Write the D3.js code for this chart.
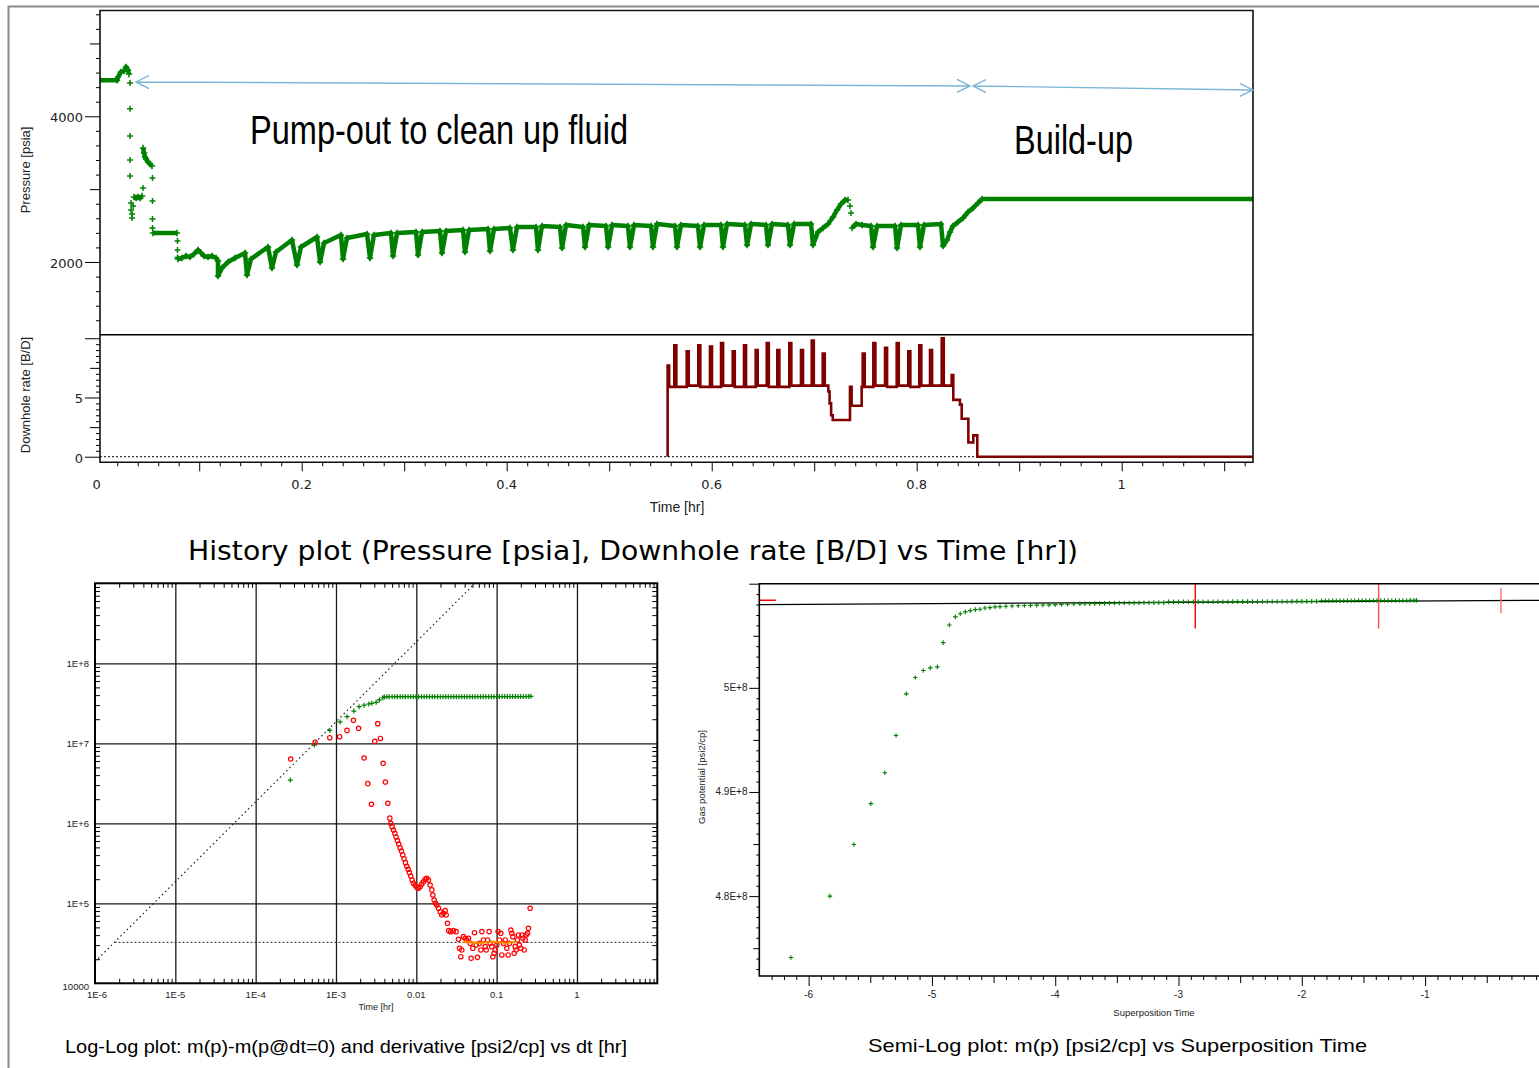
<!DOCTYPE html>
<html><head><meta charset="utf-8">
<script src="https://cdn.jsdelivr.net/npm/d3@7"></script>
<style>body{margin:0;background:#fff}svg{display:block}</style>
</head><body>
<svg id="c" width="1539" height="1068"></svg>
<script>
// ================= DATA =================
// --- History plot ---
const historyXTickLabels = [0, 0.2, 0.4, 0.6, 0.8, 1];
const pressureTickLabels = [2000, 4000];
const rateTickLabels = [0, 5];

// pressure [hr, psia] - continuous runs of dense samples
const pressureInitial = [[0.0032,4494],[0.0198,4494],[0.0208,4540],[0.0237,4608],[0.0266,4622],[0.0286,4677],[0.0305,4636],[0.0315,4581]];
const pressurePlateau1 = [[0.0364,2892],[0.0384,2879],[0.0403,2892],[0.0423,2879],[0.0442,2906]];
const pressureArc = [[0.0452,3565],[0.0462,3496],[0.0471,3441],[0.0481,3414],[0.0500,3373],[0.0520,3345],[0.0539,3318]];
const pressurePlateau2 = [[0.0549,2398],[0.0783,2398]];
const pressurePumpOut = [
 [0.0793,2041],[0.0832,2055],[0.0871,2082],[0.0910,2069],[0.0949,2110],[0.0988,2165],[0.1018,2124],[0.1047,2082],[0.1086,2069],[0.1125,2082],[0.1164,2055],[0.1183,2014],
 [0.1183,1808],[0.1222,1918],[0.1281,2000],[0.1349,2055],[0.1447,2124],
 [0.1466,1822],[0.1505,2041],[0.1671,2206],
 [0.1710,1918],[0.1749,2137],[0.1905,2302],
 [0.1954,1959],[0.1993,2206],[0.2149,2343],
 [0.2179,2000],[0.2218,2260],[0.2383,2371],
 [0.2403,2041],[0.2442,2330],[0.2637,2384],
 [0.2666,2055],[0.2705,2371],[0.2871,2398],
 [0.2891,2082],[0.2930,2398],[0.3115,2412],
 [0.3135,2096],[0.3174,2412],[0.3349,2426],
 [0.3369,2124],[0.3408,2426],[0.3574,2439],
 [0.3593,2137],[0.3632,2439],[0.3818,2453],
 [0.3837,2151],[0.3876,2453],[0.4032,2467],
 [0.4061,2165],[0.4100,2480],[0.4286,2480],
 [0.4305,2165],[0.4344,2494],[0.4520,2480],
 [0.4540,2192],[0.4579,2508],[0.4745,2480],
 [0.4764,2206],[0.4803,2508],[0.4969,2494],
 [0.4989,2206],[0.5028,2508],[0.5183,2494],
 [0.5203,2206],[0.5242,2508],[0.5408,2494],
 [0.5427,2206],[0.5466,2522],[0.5642,2494],
 [0.5661,2206],[0.5700,2508],[0.5866,2494],
 [0.5886,2206],[0.5925,2508],[0.6091,2508],
 [0.6110,2206],[0.6149,2522],[0.6325,2508],
 [0.6345,2233],[0.6384,2522],[0.6530,2508],
 [0.6549,2233],[0.6588,2522],[0.6744,2508],
 [0.6764,2233],[0.6803,2522],[0.6969,2522],
 [0.6988,2233],[0.7037,2412],[0.7086,2467],[0.7135,2522],[0.7184,2618],[0.7223,2714],[0.7262,2796],[0.7301,2851],[0.7330,2851]
];
const pressureLate = [
 [0.7369,2467],[0.7408,2522],[0.7467,2508],[0.7555,2494],
 [0.7574,2206],[0.7613,2494],[0.7789,2494],
 [0.7808,2192],[0.7847,2508],[0.8013,2508],
 [0.8032,2206],[0.8071,2508],[0.8237,2522],
 [0.8257,2220],[0.8296,2302],[0.8325,2412],[0.8354,2494],[0.8403,2549],[0.8452,2604],[0.8501,2686],[0.8550,2741],[0.8598,2810],[0.8637,2865],
 [1.1281,2865]
];
// isolated pressure samples
const pressureSparse = [
 [0.0325,4457],[0.0325,4104],[0.0325,3730],[0.0325,3400],[0.0325,3180],
 [0.0335,2810],[0.0335,2714],[0.0345,2659],[0.0345,2604],[0.0355,2769],
 [0.0452,3015],[0.0544,3153],[0.0544,2837],[0.0544,2590],[0.0544,2467],
 [0.0788,2288],[0.0788,2165],[0.0788,2062],
 [0.7349,2769],[0.7359,2673]
];
// downhole rate [hr, B/D] (step after)
const rateHistory = [
 [0.5570,0],[0.5570,7.7],[0.5585,5.9],
 [0.5635,9.4],[0.5655,5.9],[0.5756,8.9],[0.5776,6.0],[0.5869,9.4],[0.5889,5.9],
 [0.5983,9.3],[0.6003,5.9],[0.6091,9.6],[0.6111,6.0],[0.6205,8.9],[0.6225,5.9],
 [0.6315,9.4],[0.6335,5.9],[0.6429,9.0],[0.6449,6.0],[0.6537,9.6],[0.6557,5.9],
 [0.6640,9.0],[0.6660,5.9],[0.6757,9.6],[0.6777,6.0],[0.6871,9.0],[0.6891,6.0],
 [0.6976,9.8],[0.6996,6.0],[0.7083,8.7],[0.7103,6.0],
 [0.7138,5.5],[0.7150,4.5],[0.7165,3.5],[0.7181,3.1],
 [0.7349,5.9],[0.7365,4.3],[0.7463,5.9],
 [0.7473,8.7],[0.7493,5.9],[0.7577,9.6],[0.7597,6.0],[0.7691,9.2],[0.7711,5.9],
 [0.7805,9.6],[0.7825,6.0],[0.7918,8.9],[0.7938,5.9],[0.8025,9.4],[0.8045,6.0],
 [0.8130,9.0],[0.8150,6.0],[0.8244,10.0],[0.8264,6.0],
 [0.8341,6.9],[0.8357,4.8],[0.8422,4.4],[0.8439,3.2],[0.8504,1.2],[0.8552,1.8],[0.8591,0],[1.1281,0]
];
// annotation arrows [hr, psia]
const arrowPumpOut = [[0.0383,4471],[0.852,4416]];
const arrowBuildUp = [[0.855,4416],[1.128,4361]];

// --- Log-Log plot ---
const logXTickValues = [1e-6,1e-5,1e-4,1e-3,0.01,0.1,1];
const logXTickLabels = ["1E-6","1E-5","1E-4","1E-3","0.01","0.1","1"];
const logYTickValues = [1e4,1e5,1e6,1e7,1e8];
const logYTickLabels = ["10000","1E+5","1E+6","1E+7","1E+8"];
const deltaMp = [
 [2.70e-4,3.47e6],[5.38e-4,9.5e6],[8.37e-4,1.45e7],[1.125e-3,1.85e7],[1.374e-3,2.15e7],[1.67e-3,2.53e7],[1.94e-3,2.87e7],
 [2.24e-3,3.0e7],[2.56e-3,3.1e7],[2.79e-3,3.16e7],[3.16e-3,3.25e7],[3.47e-3,3.48e7],[3.83e-3,3.71e7],
 [0.0040,3.80e7],[0.0043,3.81e7],[0.0046,3.82e7],[0.0050,3.82e7],[0.0054,3.82e7],[0.0058,3.83e7],[0.0063,3.83e7],[0.0068,3.83e7],
 [0.0073,3.83e7],[0.0079,3.83e7],[0.0085,3.83e7],[0.0092,3.83e7],[0.0099,3.83e7],[0.0107,3.83e7],[0.0116,3.83e7],[0.0125,3.83e7],
 [0.0135,3.83e7],[0.0146,3.83e7],[0.0158,3.83e7],[0.0170,3.83e7],[0.0184,3.83e7],[0.0199,3.83e7],[0.0215,3.83e7],[0.0232,3.83e7],
 [0.0250,3.83e7],[0.0270,3.83e7],[0.0292,3.83e7],[0.0315,3.83e7],[0.0340,3.83e7],[0.0367,3.83e7],[0.0397,3.83e7],[0.0428,3.83e7],
 [0.0463,3.83e7],[0.0500,3.83e7],[0.0540,3.83e7],[0.0583,3.83e7],[0.0630,3.83e7],[0.0680,3.83e7],[0.0734,3.83e7],[0.0793,3.83e7],
 [0.0857,3.83e7],[0.0925,3.83e7],[0.0999,3.84e7],[0.108,3.84e7],[0.117,3.84e7],[0.126,3.84e7],[0.136,3.84e7],[0.147,3.84e7],
 [0.158,3.84e7],[0.171,3.84e7],[0.185,3.84e7],[0.199,3.84e7],[0.215,3.84e7],[0.233,3.84e7],[0.251,3.85e7],[0.267,3.87e7]
];
const derivativeMp = [
 [2.73e-4,6.36e6],[5.5e-4,1.03e7],[8.37e-4,1.175e7],[1.11e-3,1.21e7],[1.37e-3,1.45e7],[1.65e-3,1.94e7],[1.91e-3,1.54e7],
 [2.24e-3,6.55e6],[2.49e-3,3.13e6],[2.76e-3,1.73e6],[3.04e-3,1.06e7],[3.31e-3,1.76e7],[3.57e-3,1.15e7],[3.86e-3,5.62e6],
 [4.12e-3,3.28e6],[4.42e-3,1.78e6],[4.68e-3,1.16e6],
 [4.81e-3,1.00e6],[5.00e-3,9.08e5],[5.19e-3,8.24e5],[5.40e-3,7.50e5],[5.60e-3,6.75e5],[5.82e-3,6.07e5],[6.04e-3,5.51e5],
 [6.28e-3,4.95e5],[6.53e-3,4.51e5],[6.78e-3,4.02e5],[7.05e-3,3.61e5],[7.33e-3,3.22e5],[7.60e-3,2.90e5],[7.91e-3,2.66e5],
 [8.20e-3,2.42e5],[8.53e-3,2.19e5],[8.87e-3,1.95e5],[9.20e-3,1.78e5],[9.66e-3,1.68e5],[1.014e-2,1.58e5],[1.064e-2,1.54e5],
 [1.114e-2,1.61e5],[1.169e-2,1.74e5],[1.227e-2,1.86e5],[1.288e-2,2.00e5],[1.349e-2,2.05e5],[1.416e-2,1.95e5],[1.486e-2,1.69e5],
 [1.560e-2,1.47e5],[1.603e-2,1.27e5],[1.667e-2,1.10e5],[1.730e-2,1.00e5],[1.799e-2,9.53e4],[1.888e-2,8.65e4],[1.982e-2,7.85e4],
 [2.075e-2,7.14e4],[2.178e-2,7.50e4],[2.286e-2,8.09e4],[2.355e-2,7.14e4],[2.443e-2,5.62e4],[2.535e-2,4.55e4],[2.685e-2,4.42e4],
 [2.897e-2,4.55e4],[3.133e-2,4.42e4],
 [0.0335,3.55e4],[0.0345,2.74e4],[0.0358,2.15e4],[0.0368,2.61e4],[0.0386,3.83e4],[0.0405,3.65e4],[0.0425,3.48e4],[0.0446,3.65e4],
 [0.0468,3.16e4],[0.0481,2.05e4],[0.0505,2.74e4],[0.0530,4.29e4],[0.0556,3.01e4],[0.0577,2.11e4],[0.0611,3.16e4],[0.0636,2.61e4],
 [0.0655,4.43e4],[0.0686,3.48e4],[0.0720,2.87e4],[0.0740,2.61e4],[0.0769,3.48e4],[0.0807,4.43e4],[0.0830,3.16e4],[0.0871,2.87e4],
 [0.0897,2.15e4],[0.0931,2.37e4],[0.0958,2.61e4],[0.1005,3.01e4],[0.1044,4.43e4],[0.1084,3.48e4],[0.1128,4.22e4],[0.1161,2.26e4],
 [0.1217,3.16e4],[0.1277,3.48e4],[0.1340,2.74e4],[0.1391,2.26e4],[0.1445,3.16e4],[0.1503,4.64e4],[0.1546,4.22e4],[0.1591,3.83e4],
 [0.1653,2.37e4],[0.1700,2.87e4],[0.1750,2.61e4],[0.1817,3.48e4],[0.1868,4.02e4],[0.1923,3.01e4],[0.2000,2.74e4],[0.2061,4.02e4],
 [0.2120,3.65e4],[0.2203,2.61e4],[0.2265,3.48e4],[0.2333,4.02e4],[0.2422,4.22e4],[0.2490,4.87e4],[0.2612,8.66e4]
];
const derivativeFit = [[0.038,3.3e4],[0.06,3.2e4],[0.09,3.3e4],[0.13,3.2e4],[0.18,3.3e4]];
const unitSlopeLine = [[1e-6,1.86e4],[0.0538,1e9]];
const radialFlowLine = [[1.75e-6,3.25e4],[10,3.25e4]];

// --- Semi-Log plot ---
const semiXTickLabels = [-6,-5,-4,-3,-2,-1];
const semiYTickValues = [4.8e8,4.9e8,5e8];
const semiYTickLabels = ["4.8E+8","4.9E+8","5E+8"];
const gasPotential = [
 [-6.143,4.741e8],[-5.827,4.800e8],[-5.633,4.8495e8],[-5.495,4.8888e8],[-5.382,4.9185e8],[-5.291,4.9543e8],[-5.208,4.9942e8],
 [-5.135,5.0099e8],[-5.070,5.0166e8],[-5.013,5.0192e8],[-4.956,5.0201e8],[-4.908,5.0434e8],[-4.859,5.0604e8],[-4.810,5.0681e8],
 [-4.770,5.0712e8],[-4.729,5.0729e8],[-4.689,5.0741e8],[-4.648,5.0751e8],[-4.610,5.0755e8],[-4.570,5.0767e8],[-4.529,5.0770e8],
 [-4.488,5.0777e8],[-4.448,5.0780e8],
 [-4.40,5.0784e8],[-4.35,5.0786e8],[-4.30,5.0788e8],[-4.25,5.0790e8],[-4.20,5.0792e8],[-4.15,5.0794e8],[-4.10,5.0796e8],[-4.05,5.0797e8],
 [-4.00,5.0799e8],[-3.95,5.0801e8],[-3.90,5.0803e8],[-3.85,5.0805e8],[-3.80,5.0806e8],[-3.76,5.0807e8],[-3.72,5.0808e8],[-3.68,5.0809e8],
 [-3.64,5.0810e8],[-3.60,5.0811e8],[-3.56,5.0812e8],[-3.52,5.0813e8],[-3.48,5.0814e8],[-3.44,5.0815e8],[-3.40,5.0815e8],[-3.36,5.0816e8],
 [-3.32,5.0816e8],[-3.28,5.0817e8],[-3.24,5.0817e8],[-3.20,5.0818e8],[-3.16,5.0818e8],[-3.12,5.0818e8],[-3.08,5.0825e8],[-3.04,5.0825e8],
 [-3.00,5.0825e8],[-2.96,5.0826e8],[-2.92,5.0826e8],[-2.88,5.0826e8],[-2.84,5.0826e8],[-2.80,5.0826e8],[-2.76,5.0827e8],[-2.72,5.0827e8],
 [-2.68,5.0827e8],[-2.64,5.0827e8],[-2.60,5.0827e8],[-2.56,5.0828e8],[-2.52,5.0828e8],[-2.48,5.0828e8],[-2.44,5.0828e8],[-2.40,5.0828e8],
 [-2.36,5.0828e8],[-2.32,5.0829e8],[-2.28,5.0829e8],[-2.24,5.0829e8],[-2.20,5.0829e8],[-2.16,5.0829e8],[-2.12,5.0829e8],[-2.08,5.0830e8],
 [-2.04,5.0830e8],[-2.00,5.0830e8],[-1.96,5.0830e8],[-1.92,5.0830e8],[-1.88,5.0830e8],[-1.84,5.0836e8],[-1.81,5.0836e8],[-1.78,5.0836e8],
 [-1.75,5.0836e8],[-1.72,5.0837e8],[-1.69,5.0837e8],[-1.66,5.0837e8],[-1.63,5.0837e8],[-1.60,5.0837e8],[-1.57,5.0837e8],[-1.54,5.0838e8],
 [-1.51,5.0838e8],[-1.48,5.0838e8],[-1.45,5.0838e8],[-1.42,5.0838e8],[-1.39,5.0838e8],[-1.36,5.0838e8],[-1.33,5.0839e8],[-1.30,5.0839e8],
 [-1.27,5.0839e8],[-1.24,5.0839e8],[-1.21,5.0839e8],[-1.18,5.0839e8],[-1.15,5.0839e8],[-1.12,5.0840e8],[-1.09,5.0840e8],[-1.07,5.0840e8]
];
const semilogFitLine = [[-6.4,5.0799e8],[0,5.0841e8]];
const semilogMarkerDash = [[-6.4,5.0841e8],[-6.266,5.0841e8]];
const semilogMarkers = [[-2.864,5.0569e8,5.10e8],[-1.377,5.0569e8,5.10e8],[-0.385,5.0716e8,5.0956e8]];

// ================= DRAWING =================
const svg = d3.select("#c");
const defs = svg.append("defs");
const SANS = "'Liberation Sans', Arial, sans-serif";
const GREEN = "#008000";

function clip(id, x, y, w, h) {
  defs.append("clipPath").attr("id", id).append("rect").attr("x", x).attr("y", y).attr("width", w).attr("height", h);
  return "url(#" + id + ")";
}
function plusMarks(g, pts, xs, ys, s, sw) {
  g.selectAll(null).data(pts).join("path")
    .attr("d", `M${-s},0H${s}M0,${-s}V${s}`)
    .attr("transform", d => `translate(${xs(d[0])},${ys(d[1])})`)
    .attr("stroke", GREEN).attr("stroke-width", sw).attr("fill", "none");
}
function styleAxis(g) { g.select(".domain").remove(); g.selectAll("line").attr("stroke", "#000"); }

// outer gray border
svg.append("path").attr("d", "M8.5,1068V6.5H1539").attr("fill", "none").attr("stroke", "#8a8a8a").attr("stroke-width", 2);

// ---------- History plot ----------
const hx = d3.scaleLinear().domain([0.0032, 1.1281]).range([100, 1253]);
const hyP = d3.scaleLinear().domain([1002, 5452]).range([334.7, 10.5]);
const hyR = d3.scaleLinear().domain([-0.47, 10.3]).range([462.3, 334.7]);
const H = svg.append("g");

// pressure ticks
const pMinor = d3.range(1200, 5401, 200).filter(v => v % 1000 !== 0);
H.append("g").attr("transform", "translate(100,0)").call(d3.axisLeft(hyP).tickValues(pMinor).tickSize(4).tickFormat("")).call(styleAxis);
H.append("g").attr("transform", "translate(100,0)").call(d3.axisLeft(hyP).tickValues([3000, 5000]).tickSize(10).tickFormat("")).call(styleAxis);
H.append("g").attr("transform", "translate(100,0)").call(d3.axisLeft(hyP).tickValues(pressureTickLabels).tickSize(15).tickFormat("")).call(styleAxis);
H.selectAll(null).data(pressureTickLabels).join("text")
  .attr("x", 83).attr("y", d => hyP(d) + 6).attr("text-anchor", "end")
  .attr("font-family", "'DejaVu Sans', sans-serif").attr("font-size", 13).attr("fill", "#222").text(d => d);

// rate ticks
const rMinor = d3.range(0.5, 10, 0.5).filter(v => v !== 5 && v !== 2.5 && v !== 7.5);
H.append("g").attr("transform", "translate(100,0)").call(d3.axisLeft(hyR).tickValues(rMinor).tickSize(4).tickFormat("")).call(styleAxis);
H.append("g").attr("transform", "translate(100,0)").call(d3.axisLeft(hyR).tickValues([2.5, 7.5]).tickSize(10).tickFormat("")).call(styleAxis);
H.append("g").attr("transform", "translate(100,0)").call(d3.axisLeft(hyR).tickValues([0, 5, 10]).tickSize(15).tickFormat("")).call(styleAxis);
H.selectAll(null).data(rateTickLabels).join("text")
  .attr("x", 83).attr("y", d => hyR(d) + 6).attr("text-anchor", "end")
  .attr("font-family", "'DejaVu Sans', sans-serif").attr("font-size", 13).attr("fill", "#222").text(d => d);

// time ticks
const tMinor = d3.range(1, 57).map(i => i * 0.02).filter(v => Math.abs(v * 10 - Math.round(v * 10)) > 1e-6);
const tMajor = d3.range(1, 12).map(i => i * 0.1);
H.append("g").attr("transform", "translate(0,462.3)").call(d3.axisBottom(hx).tickValues(tMinor).tickSize(4).tickFormat("")).call(styleAxis);
H.append("g").attr("transform", "translate(0,462.3)").call(d3.axisBottom(hx).tickValues(tMajor).tickSize(9).tickFormat("")).call(styleAxis);
H.selectAll(null).data(historyXTickLabels).join("text")
  .attr("x", d => hx(d)).attr("y", 489).attr("text-anchor", "middle")
  .attr("font-family", "'DejaVu Sans', sans-serif").attr("font-size", 13).attr("fill", "#222").text(d => d);

// axis titles
H.append("text").attr("x", 677).attr("y", 512).attr("text-anchor", "middle").attr("font-family", SANS).attr("font-size", 14).attr("fill", "#222").text("Time [hr]");
H.append("text").attr("transform", "translate(30,170) rotate(-90)").attr("text-anchor", "middle").attr("font-family", SANS).attr("font-size", 13).attr("fill", "#222").text("Pressure [psia]");
H.append("text").attr("transform", "translate(30,395) rotate(-90)").attr("text-anchor", "middle").attr("font-family", SANS).attr("font-size", 13).attr("fill", "#222").text("Downhole rate [B/D]");

// zero-rate dotted line
H.append("line").attr("x1", 100).attr("x2", 1253).attr("y1", hyR(0)).attr("y2", hyR(0))
  .attr("stroke", "#000").attr("stroke-width", 1).attr("stroke-dasharray", "2,2");

// pressure data
const pClip = clip("pclip", 100, 10.5, 1153, 324.2);
const PG = H.append("g").attr("clip-path", pClip);
const pLine = d3.line().x(d => hx(d[0])).y(d => hyP(d[1]));
[pressureInitial, pressurePlateau1, pressureArc, pressurePlateau2, pressurePumpOut, pressureLate].forEach(run => {
  PG.append("path").attr("d", pLine(run)).attr("fill", "none").attr("stroke", GREEN)
    .attr("stroke-width", 4.5).attr("stroke-linejoin", "round");
  plusMarks(PG, run, hx, hyP, 3.2, 1.6);
});
plusMarks(PG, pressureSparse, hx, hyP, 3, 1.5);

// rate data
const rClip = clip("rclip", 100, 334.7, 1153, 127.6);
H.append("path").attr("clip-path", rClip)
  .attr("d", d3.line().curve(d3.curveStepAfter).x(d => hx(d[0])).y(d => hyR(d[1]))(rateHistory))
  .attr("fill", "none").attr("stroke", "#800000").attr("stroke-width", 2.6).attr("stroke-linejoin", "miter");

// frame
H.append("path").attr("d", "M100,10.5H1253V462.3H100Z").attr("fill", "none").attr("stroke", "#111").attr("stroke-width", 1.6);
H.append("line").attr("x1", 100).attr("x2", 1253).attr("y1", 334.7).attr("y2", 334.7).attr("stroke", "#000").attr("stroke-width", 1.4);

// annotation arrows
function arrow(g, a, b) {
  const p1 = [hx(a[0]), hyP(a[1])], p2 = [hx(b[0]), hyP(b[1])];
  const ang = Math.atan2(p2[1] - p1[1], p2[0] - p1[0]);
  const head = (p, dir) => {
    const L = 13, Wd = 6.5;
    const bx = p[0] - Math.cos(dir) * L, by = p[1] - Math.sin(dir) * L;
    const nx = -Math.sin(dir) * Wd, ny = Math.cos(dir) * Wd;
    return `M${bx + nx},${by + ny}L${p[0]},${p[1]}L${bx - nx},${by - ny}`;
  };
  g.append("path").attr("d", `M${p1[0]},${p1[1]}L${p2[0]},${p2[1]}` + head(p2, ang) + head(p1, ang + Math.PI))
    .attr("fill", "none").attr("stroke", "#7ab6d6").attr("stroke-width", 1.4);
}
arrow(H, arrowPumpOut[0], arrowPumpOut[1]);
arrow(H, arrowBuildUp[0], arrowBuildUp[1]);
const NARROW = "'Liberation Sans Narrow', 'Arial Narrow', 'Liberation Sans', sans-serif";
H.append("text").attr("x", 250).attr("y", 144).attr("font-family", NARROW).attr("font-size", 40)
  .attr("textLength", 378).attr("lengthAdjust", "spacingAndGlyphs").attr("fill", "#000").text("Pump-out to clean up fluid");
H.append("text").attr("x", 1014).attr("y", 154).attr("font-family", NARROW).attr("font-size", 40)
  .attr("textLength", 119).attr("lengthAdjust", "spacingAndGlyphs").attr("fill", "#000").text("Build-up");

// history title
svg.append("text").attr("x", 188).attr("y", 560).attr("font-family", "'DejaVu Sans', Verdana, sans-serif").attr("font-size", 26)
  .attr("textLength", 890).attr("lengthAdjust", "spacingAndGlyphs").attr("fill", "#000")
  .text("History plot (Pressure [psia], Downhole rate [B/D] vs Time [hr])");

// ---------- Log-Log plot ----------
const lx = d3.scaleLog().domain([1e-6, 10]).range([95, 657.3]);
const ly = d3.scaleLog().domain([1e4, 1e9]).range([983.3, 583.3]);
const L = svg.append("g");
// grid
L.append("g").attr("transform", "translate(0,983.3)").call(d3.axisBottom(lx).tickValues([1e-5,1e-4,1e-3,1e-2,1e-1,1]).tickSize(-400).tickFormat(""))
  .call(g => { g.select(".domain").remove(); g.selectAll("line").attr("stroke", "#1a1a1a").attr("stroke-width", 1.3); });
L.append("g").attr("transform", "translate(95,0)").call(d3.axisLeft(ly).tickValues([1e5,1e6,1e7,1e8]).tickSize(-562.3).tickFormat(""))
  .call(g => { g.select(".domain").remove(); g.selectAll("line").attr("stroke", "#1a1a1a").attr("stroke-width", 1.3); });
// minor ticks (inside)
const xMinorLog = [];
[1e-6,1e-5,1e-4,1e-3,1e-2,1e-1,1].forEach(d => { for (let k = 2; k <= 9; k++) xMinorLog.push(k * d); });
const yMinorLog = [];
[1e4,1e5,1e6,1e7,1e8].forEach(d => { for (let k = 2; k <= 9; k++) yMinorLog.push(k * d); });
L.append("g").attr("transform", "translate(0,983.3)").call(d3.axisBottom(lx).tickValues(xMinorLog).tickSize(-4.5).tickFormat("")).call(styleAxis);
L.append("g").attr("transform", "translate(0,583.3)").call(d3.axisTop(lx).tickValues(xMinorLog).tickSize(-4.5).tickFormat("")).call(styleAxis);
L.append("g").attr("transform", "translate(95,0)").call(d3.axisLeft(ly).tickValues(yMinorLog).tickSize(-5).tickFormat("")).call(styleAxis);
L.append("g").attr("transform", "translate(657.3,0)").call(d3.axisRight(ly).tickValues(yMinorLog).tickSize(-5).tickFormat("")).call(styleAxis);
// labels
L.selectAll(null).data(logXTickValues).join("text")
  .attr("x", (d, i) => lx(d) + (i === 0 ? 2 : 0)).attr("y", 998).attr("text-anchor", "middle")
  .attr("font-family", SANS).attr("font-size", 9.5).attr("fill", "#222").text((d, i) => logXTickLabels[i]);
L.selectAll(null).data(logYTickValues).join("text")
  .attr("x", 89).attr("y", (d, i) => i === 0 ? 990 : ly(d) + 3.5).attr("text-anchor", "end")
  .attr("font-family", SANS).attr("font-size", 9.5).attr("fill", "#222").text((d, i) => logYTickLabels[i]);
L.append("text").attr("x", 376).attr("y", 1010).attr("text-anchor", "middle").attr("font-family", SANS).attr("font-size", 9).attr("fill", "#222").text("Time [hr]");
// data
const lClip = clip("lclip", 95, 583.3, 562.3, 400);
const LD = L.append("g").attr("clip-path", lClip);
const lLine = d3.line().x(d => lx(d[0])).y(d => ly(d[1]));
LD.append("path").attr("d", lLine(unitSlopeLine)).attr("fill", "none").attr("stroke", "#222").attr("stroke-width", 1.2).attr("stroke-dasharray", "1.5,3");
LD.append("path").attr("d", lLine(radialFlowLine)).attr("fill", "none").attr("stroke", "#222").attr("stroke-width", 1).attr("stroke-dasharray", "2,2");
plusMarks(LD, deltaMp, lx, ly, 2.5, 1.2);
LD.selectAll(null).data(derivativeMp).join("circle")
  .attr("cx", d => lx(d[0])).attr("cy", d => ly(d[1])).attr("r", 2.2)
  .attr("fill", "none").attr("stroke", "#ff0000").attr("stroke-width", 1.2);
LD.append("path").attr("d", lLine(derivativeFit)).attr("fill", "none").attr("stroke", "#ff8c00").attr("stroke-width", 2.5).attr("opacity", 0.85);
L.append("rect").attr("x", 95).attr("y", 583.3).attr("width", 562.3).attr("height", 400).attr("fill", "none").attr("stroke", "#000").attr("stroke-width", 2);

svg.append("text").attr("x", 65).attr("y", 1053).attr("font-family", SANS).attr("font-size", 18.5).attr("fill", "#000")
  .attr("textLength", 562).attr("lengthAdjust", "spacingAndGlyphs")
  .text("Log-Log plot: m(p)-m(p@dt=0) and derivative [psi2/cp] vs dt [hr]");

// ---------- Semi-Log plot ----------
const sx = d3.scaleLinear().domain([-6.4, 0]).range([759.3, 1548.4]);
const sy = d3.scaleLinear().domain([4.7233e8, 5.1e8]).range([976, 583.7]);
const S = svg.append("g");
const sMinor = d3.range(-63, 0).map(i => i / 10).filter(v => Math.abs(v * 2 - Math.round(v * 2)) > 1e-6);
const sHalf = [-5.5, -4.5, -3.5, -2.5, -1.5, -0.5];
S.append("g").attr("transform", "translate(0,976)").call(d3.axisBottom(sx).tickValues(sMinor).tickSize(4).tickFormat("")).call(styleAxis);
S.append("g").attr("transform", "translate(0,976)").call(d3.axisBottom(sx).tickValues(sHalf).tickSize(7).tickFormat("")).call(styleAxis);
S.append("g").attr("transform", "translate(0,976)").call(d3.axisBottom(sx).tickValues(semiXTickLabels).tickSize(10).tickFormat("")).call(styleAxis);
S.selectAll(null).data(semiXTickLabels).join("text")
  .attr("x", d => sx(d)).attr("y", 998).attr("text-anchor", "middle")
  .attr("font-family", SANS).attr("font-size", 10).attr("fill", "#222").text(d => d);
const syMinor = d3.range(473, 510).map(i => i * 1e6).filter(v => (v / 1e6) % 5 !== 0);
S.append("g").attr("transform", "translate(759.3,0)").call(d3.axisLeft(sy).tickValues(syMinor).tickSize(3).tickFormat("")).call(styleAxis);
S.append("g").attr("transform", "translate(759.3,0)").call(d3.axisLeft(sy).tickValues([4.75e8, 4.85e8, 4.95e8, 5.05e8]).tickSize(6).tickFormat("")).call(styleAxis);
S.append("g").attr("transform", "translate(759.3,0)").call(d3.axisLeft(sy).tickValues([4.8e8, 4.9e8, 5e8, 5.1e8]).tickSize(10).tickFormat("")).call(styleAxis);
S.selectAll(null).data(semiYTickValues).join("text")
  .attr("x", 747.5).attr("y", d => sy(d) + 3.5).attr("text-anchor", "end")
  .attr("font-family", SANS).attr("font-size", 10).attr("fill", "#222").text((d, i) => semiYTickLabels[i]);
S.append("text").attr("transform", "translate(705,777) rotate(-90)").attr("text-anchor", "middle")
  .attr("font-family", SANS).attr("font-size", 9.5).attr("fill", "#222").text("Gas potential [psi2/cp]");
S.append("text").attr("x", 1154).attr("y", 1016).attr("text-anchor", "middle")
  .attr("font-family", SANS).attr("font-size", 9.5).attr("fill", "#222").text("Superposition Time");
// data
const sClip = clip("sclip", 759.3, 583.7, 800, 392.3);
const SD = S.append("g").attr("clip-path", sClip);
const sLine = d3.line().x(d => sx(d[0])).y(d => sy(d[1]));
SD.append("path").attr("d", sLine(semilogFitLine)).attr("fill", "none").attr("stroke", "#000").attr("stroke-width", 1.3);
SD.append("path").attr("d", sLine(semilogMarkerDash)).attr("fill", "none").attr("stroke", "#ff0000").attr("stroke-width", 1.3);
SD.selectAll(null).data(semilogMarkers).join("line")
  .attr("x1", d => sx(d[0])).attr("x2", d => sx(d[0])).attr("y1", d => sy(d[1])).attr("y2", d => sy(d[2]))
  .attr("stroke", (d, i) => ["#ff0000", "#ff4d4d", "#ff6b6b"][i]).attr("stroke-width", 1.4);
plusMarks(SD, gasPotential, sx, sy, 2.3, 1.1);
S.append("path").attr("d", "M1539,583.7H759.3V976H1539").attr("fill", "none").attr("stroke", "#000").attr("stroke-width", 1.6);

svg.append("text").attr("x", 868).attr("y", 1052).attr("font-family", SANS).attr("font-size", 18.5).attr("fill", "#000")
  .attr("textLength", 499).attr("lengthAdjust", "spacingAndGlyphs")
  .text("Semi-Log plot: m(p) [psi2/cp] vs Superposition Time");
</script>
</body></html>
